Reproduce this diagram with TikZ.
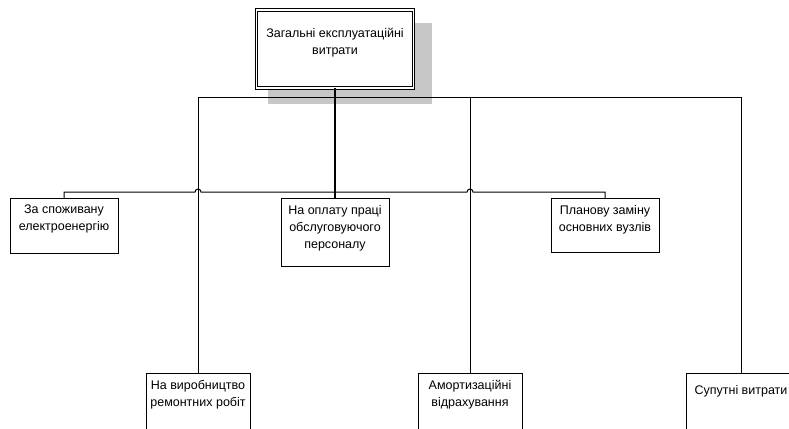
\documentclass[tikz,border=0pt]{standalone}
\usepackage{fontspec}
\setmainfont{Liberation Sans}
\usepackage{tikz}
\usetikzlibrary{positioning,shadows}
\tikzset{%
	headbox/.style = {draw, fill=white, rectangle, double, double distance=1.8pt, line width=0.9pt, minimum width=157pt, minimum height=78pt, inner sep=0pt,
		drop shadow={shadow xshift=14pt, shadow yshift=-14pt, shadow scale=1.045, fill=black!22, opacity=1}},
	costbox/.style = {draw, rectangle, anchor=north, line width=1pt, minimum width=108pt, inner sep=0pt},
	lowbox/.style  = {costbox, minimum width=104pt, minimum height=70pt},
	boxtext/.style = {anchor=north, align=center, inner sep=0pt, font=\fontsize{12.5}{17}\selectfont},
	line/.style    = {line width=1pt},
}
\begin{document}
\begin{tikzpicture}[x=1pt,y=-1pt]
	\useasboundingbox (0,0) rectangle (789,428);
	
	% head
	\node[headbox] (total) at (335,49) {};
	\node[boxtext, below=18pt of total.north] (totalt) {Загальні експлуатаційні\\витрати};
	
	% upper row
	\node[costbox, minimum height=55pt] (elec) at (64,198) {};
	\node[boxtext, below=7pt of elec.north] (elect) {За споживану\\електроенергію};
	\node[costbox, minimum height=68pt] (pay) at (335,198) {};
	\node[boxtext, below=7pt of pay.north] (payt) {На оплату праці\\обслуговуючого\\персоналу};
	\node[costbox, minimum height=54pt] (plan) at (605,198) {};
	\node[boxtext, below=7pt of plan.north] (plant) {Планову заміну\\основних вузлів};
	
	% lower row
	\node[lowbox] (repair) at (198,373) {};
	\node[boxtext, below=7pt of repair.north] (repairt) {На виробництво\\ремонтних робіт};
	\node[lowbox] (amort) at (470,373) {};
	\node[boxtext, below=7pt of amort.north] (amortt) {Амортизаційні\\відрахування};
	\node[lowbox, minimum width=110pt] (supp) at (741,373) {};
	\node[boxtext, below=12pt of supp.north] (suppt) {Супутні витрати};
	
	% buses
	\coordinate (bus1) at (335,97);
	\coordinate (bus2) at (335,192);
	\coordinate (hopA) at (repair.north |- bus2);
	\coordinate (hopB) at (amort.north |- bus2);
	
	\draw[line, line width=1.6pt] (total.south) -- (pay.north);
	\draw[line] (repair.north) -- (repair.north |- bus1) -- (supp.north |- bus1) -- (supp.north);
	\draw[line] (amort.north) -- (amort.north |- bus1);
	\draw[line] (elec.north) -- (elec.north |- bus2) -- ([xshift=-3pt]hopA) arc[start angle=180, end angle=0, radius=3pt]
		-- ([xshift=-3pt]hopB) arc[start angle=180, end angle=0, radius=3pt] -- (plan.north |- bus2) -- (plan.north);
	
\end{tikzpicture}
\end{document}
